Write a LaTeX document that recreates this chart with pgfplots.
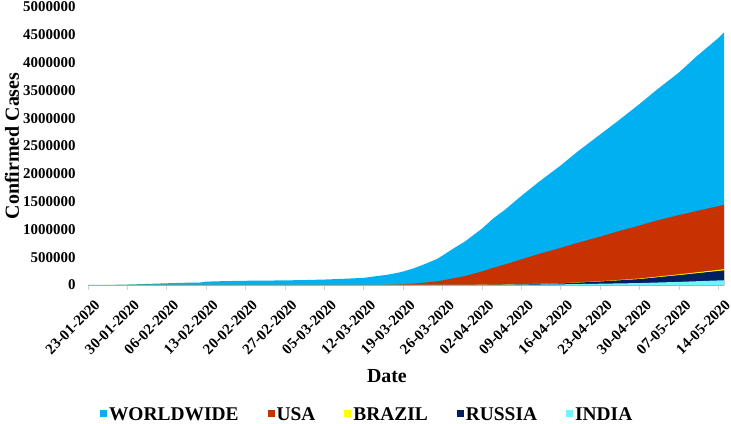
\documentclass[border=0pt]{standalone}
\usepackage{fontspec}
\setmainfont{Liberation Serif}
\usepackage{pgfplots}
\pgfplotsset{compat=1.18}

\definecolor{world}{HTML}{00B0F0}
\definecolor{usa}{HTML}{C83200}
\definecolor{brazil}{HTML}{FFFF00}
\definecolor{russia}{HTML}{002060}
\definecolor{india}{HTML}{6EF5FF}

\begin{document}
\begin{tikzpicture}
\path[use as bounding box] (-88bp,-139bp) rectangle (643bp,285bp);
\begin{axis}[
    at={(0,0)}, anchor=south west,
    scale only axis,
    width=636bp, height=278bp,
    xmin=0, xmax=113,
    ymin=0, ymax=5000000,
    axis x line*=bottom, axis y line*=left,
    x axis line style={draw=gray!35, line width=0.8bp, -},
    y axis line style={draw=none},
    xtick={0,7,...,112},
    xticklabels={23-01-2020,30-01-2020,06-02-2020,13-02-2020,20-02-2020,27-02-2020,05-03-2020,12-03-2020,19-03-2020,26-03-2020,02-04-2020,09-04-2020,16-04-2020,23-04-2020,30-04-2020,07-05-2020,14-05-2020},
    ytick={0,500000,...,5000000},
    tick align=outside,
    major tick length=5bp,
    xtick style={draw=gray!35, line width=0.8bp},
    ytick style={draw=none},
    scaled y ticks=false,
    /pgf/number format/fixed,
    /pgf/number format/1000 sep={},
    /pgf/number format/assume math mode=true,
    xticklabel style={font=\fontsize{15}{17}\bfseries\selectfont, rotate=45, anchor=north east, inner sep=1bp, yshift=-9bp, xshift=-1bp},
    yticklabel style={font=\fontsize{15}{17}\bfseries\selectfont, xshift=-4bp},
    xlabel={Date},
    ylabel={Confirmed Cases},
    label style={font=\fontsize{20}{24}\bfseries\selectfont},
    xlabel style={at={(axis description cs:0.47,0)}, anchor=center, yshift=-91bp},
    ylabel style={at={(axis description cs:0,0.5)}, anchor=center, yshift=76bp},
    legend columns=-1,
    legend style={draw=none, at={(axis description cs:0.439,0)}, anchor=center, yshift=-130bp,
        font=\fontsize{19.5}{22}\bfseries\selectfont,
        /tikz/every even column/.append style={column sep=27bp},
        inner sep=0pt},
    legend image code/.code={\fill[#1] (0bp,-2bp) rectangle (7bp,5bp);},
]
\addplot[fill=world, draw=none] coordinates {
(0,654) (2,1434) (4,2900) (7,8234) (10,17372) (14,30818) (17,40150) (20,45200)
(21,60368) (24,69032) (28,76199) (31,78985) (35,82756) (38,88369) (42,97886)
(45,109991) (47,118938) (49,128343) (51,156099) (53,181546) (55,218744)
(56,242708) (58,304528) (60,382500) (62,467550) (63,529591) (65,660693)
(67,784716) (70,1013157) (72,1197405) (74,1346299) (77,1603000) (80,1846000)
(84,2152000) (87,2401000) (91,2708000) (94,2938000) (98,3256000) (101,3507000)
(105,3822000) (108,4101000) (112,4442000) (113,4542000)
} \closedcycle;
\addlegendentry{WORLDWIDE}
\addplot[fill=usa, draw=none] coordinates {
(0,1) (42,217) (49,1663) (53,4632) (56,13677) (58,25489) (60,43847) (62,65778)
(63,83836) (65,121478) (67,161807) (70,243453) (72,308850) (74,366317)
(77,461437) (80,555313) (84,667801) (87,759086) (91,869170) (94,960896)
(98,1069826) (101,1158040) (105,1257023) (108,1329260) (112,1417774) (113,1442824)
} \closedcycle;
\addlegendentry{USA}
\addplot[fill=brazil, draw=none] coordinates {
(0,0) (56,700) (63,1500) (70,5000) (77,13000) (84,32000) (91,68000)
(98,117000) (105,192000) (112,272000) (113,285000)
} \closedcycle;
\addlegendentry{BRAZIL}
\addplot[fill=russia, draw=none] coordinates {
(0,0) (56,199) (63,840) (70,3548) (77,10131) (84,27938) (91,62773)
(98,106498) (105,177160) (112,252245) (113,262843)
} \closedcycle;
\addlegendentry{RUSSIA}
\addplot[fill=india, draw=none] coordinates {
(0,0) (56,194) (63,727) (70,2543) (77,5916) (84,12380) (91,23077)
(98,34863) (105,56351) (112,81970) (113,85784)
} \closedcycle;
\addlegendentry{INDIA}
\end{axis}
\end{tikzpicture}
\end{document}
